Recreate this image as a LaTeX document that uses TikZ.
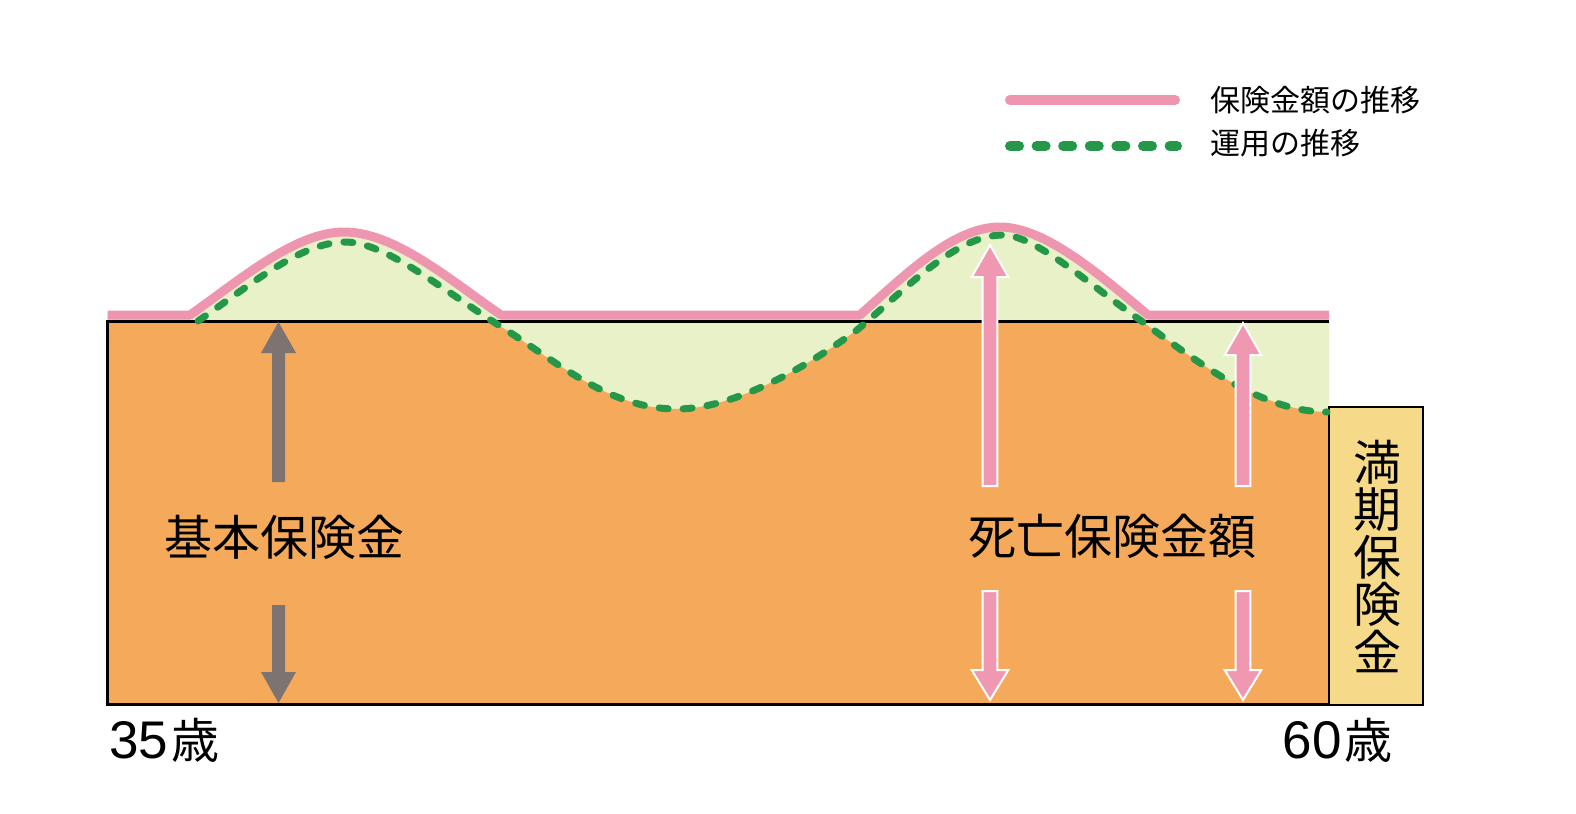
\documentclass[tikz,border=0pt]{standalone}
\usepackage{fontspec}
\setmainfont{Noto Sans CJK JP}
\newfontfamily\digitfont{Liberation Sans}
\definecolor{pinkline}{RGB}{238,150,175}
\definecolor{pinkarrow}{RGB}{240,152,178}
\definecolor{lightgreen}{RGB}{232,241,200}
\definecolor{orangefill}{RGB}{244,170,90}
\definecolor{greenline}{RGB}{36,152,72}
\definecolor{grayarrow}{RGB}{125,115,113}
\definecolor{yellowfill}{RGB}{246,218,138}
\newcommand{\shapearrow}[7]{\draw[#1] ({#2-#6},#5) -- ({#2-#6},#4) -- ({#2-#7},#4) -- (#2,#3) -- ({#2+#7},#4) -- ({#2+#6},#4) -- ({#2+#6},#5) -- cycle;}
\tikzset{
  pinkcurve/.style={draw=pinkline, line width=4.5pt, line cap=butt, line join=round},
  greencurve/.style={draw=greenline, line width=3.5pt, line cap=round, dash pattern=on 4.5pt off 7.5pt},
  pinkarr/.style={fill=pinkarrow, draw=white, line width=1pt},
  grayarr/.style={fill=grayarrow, draw=none},
  biglabel/.style={inner sep=0pt, font=\fontsize{24pt}{23.75pt}\selectfont},
  leglabel/.style={inner sep=0pt, font=\fontsize{15pt}{15pt}\selectfont, anchor=west},
  agelabel/.style={inner sep=0pt, font=\fontsize{24pt}{24pt}\selectfont},
}
\begin{document}
\begin{tikzpicture}[x=0.5pt,y=-0.5pt]
\useasboundingbox (0,0) rectangle (1576,814);
% light green area under the pink curve
\fill[lightgreen] (107.5,315) -- (190,315) .. controls (240,280) and (295,232) .. (344,232) .. controls (395,232) and (450,280) .. (501,315) -- (860,315) .. controls (910,270) and (955,227) .. (1000,227) .. controls (1045,227) and (1100,275) .. (1148,315) -- (1329,315) -- (1329,704.5) -- (107.5,704.5) -- cycle;
% orange area under the green curve
\begin{scope}
\clip (107.5,321.5) rectangle (1329,704.5);
\fill[orangefill] (107.5,321.5) -- (198,321) .. controls (248,287) and (300,242) .. (345,242)
 .. controls (385,242) and (440,288) .. (500,326)
 .. controls (560,364) and (610,409) .. (677,409)
 .. controls (730,409) and (800,372) .. (857,330)
 .. controls (905,290) and (955,235) .. (1003,235)
 .. controls (1035,235) and (1090,285) .. (1140,320)
 .. controls (1195,360) and (1260,412) .. (1329,412) -- (1329,704.5) -- (107.5,704.5) -- cycle;
\end{scope}
% frame of the basic area
\draw[black, line width=1.25pt] (1329,321.5) -- (107.5,321.5) -- (107.5,704.5) -- (1329,704.5);
% maturity box
\draw[fill=yellowfill, draw=black, line width=1pt] (1329,407) rectangle (1423,704.5);
% green dashed curve
\draw[greencurve] (198,321) .. controls (248,287) and (300,242) .. (345,242)
 .. controls (385,242) and (440,288) .. (500,326)
 .. controls (560,364) and (610,409) .. (677,409)
 .. controls (730,409) and (800,372) .. (857,330)
 .. controls (905,290) and (955,235) .. (1003,235)
 .. controls (1035,235) and (1090,285) .. (1140,320)
 .. controls (1195,360) and (1260,412) .. (1327,412);
% pink curve
\draw[pinkcurve] (107.5,315) -- (190,315) .. controls (240,280) and (295,232) .. (344,232) .. controls (395,232) and (450,280) .. (501,315) -- (860,315) .. controls (910,270) and (955,227) .. (1000,227) .. controls (1045,227) and (1100,275) .. (1148,315) -- (1329,315);
% arrows
\shapearrow{grayarr}{278.5}{322}{353}{482}{6.5}{17.5}
\shapearrow{grayarr}{278.5}{703}{672}{605}{6.5}{17.5}
\shapearrow{pinkarr}{990}{245}{277}{486}{7.3}{18.3}
\shapearrow{pinkarr}{990}{700}{670}{591}{7.3}{18.3}
\shapearrow{pinkarr}{1243}{323}{355}{486}{7.3}{18.3}
\shapearrow{pinkarr}{1243}{700}{670}{591}{7.3}{18.3}
% labels
\node[biglabel] (kihon) at (284.5,537) {基本保険金};
\node[biglabel] (shibou) at (1112.5,536) {死亡保険金額};
\node[biglabel, align=center] (manki) at (1377,556) {満\\期\\保\\険\\金};
\node[agelabel, anchor=base west] (age35) at (109,758) {{\digitfont\fontsize{26.5pt}{26.5pt}\selectfont 35}\kern1.5pt 歳};
\node[agelabel, anchor=base east] (age60) at (1393,758) {{\digitfont\fontsize{26.5pt}{26.5pt}\selectfont 60}\kern1.5pt 歳};
% legend
\draw[draw=pinkline, line width=5pt, line cap=round] (1010,100) -- (1175,100);
\draw[draw=greenline, line width=5pt, line cap=round, dash pattern=on 4.5pt off 8.8pt] (1010,146) -- (1177,146);
\node[leglabel] (leg1) at (1210,100) {保険金額の推移};
\node[leglabel] (leg2) at (1210,143) {運用の推移};
\end{tikzpicture}
\end{document}
